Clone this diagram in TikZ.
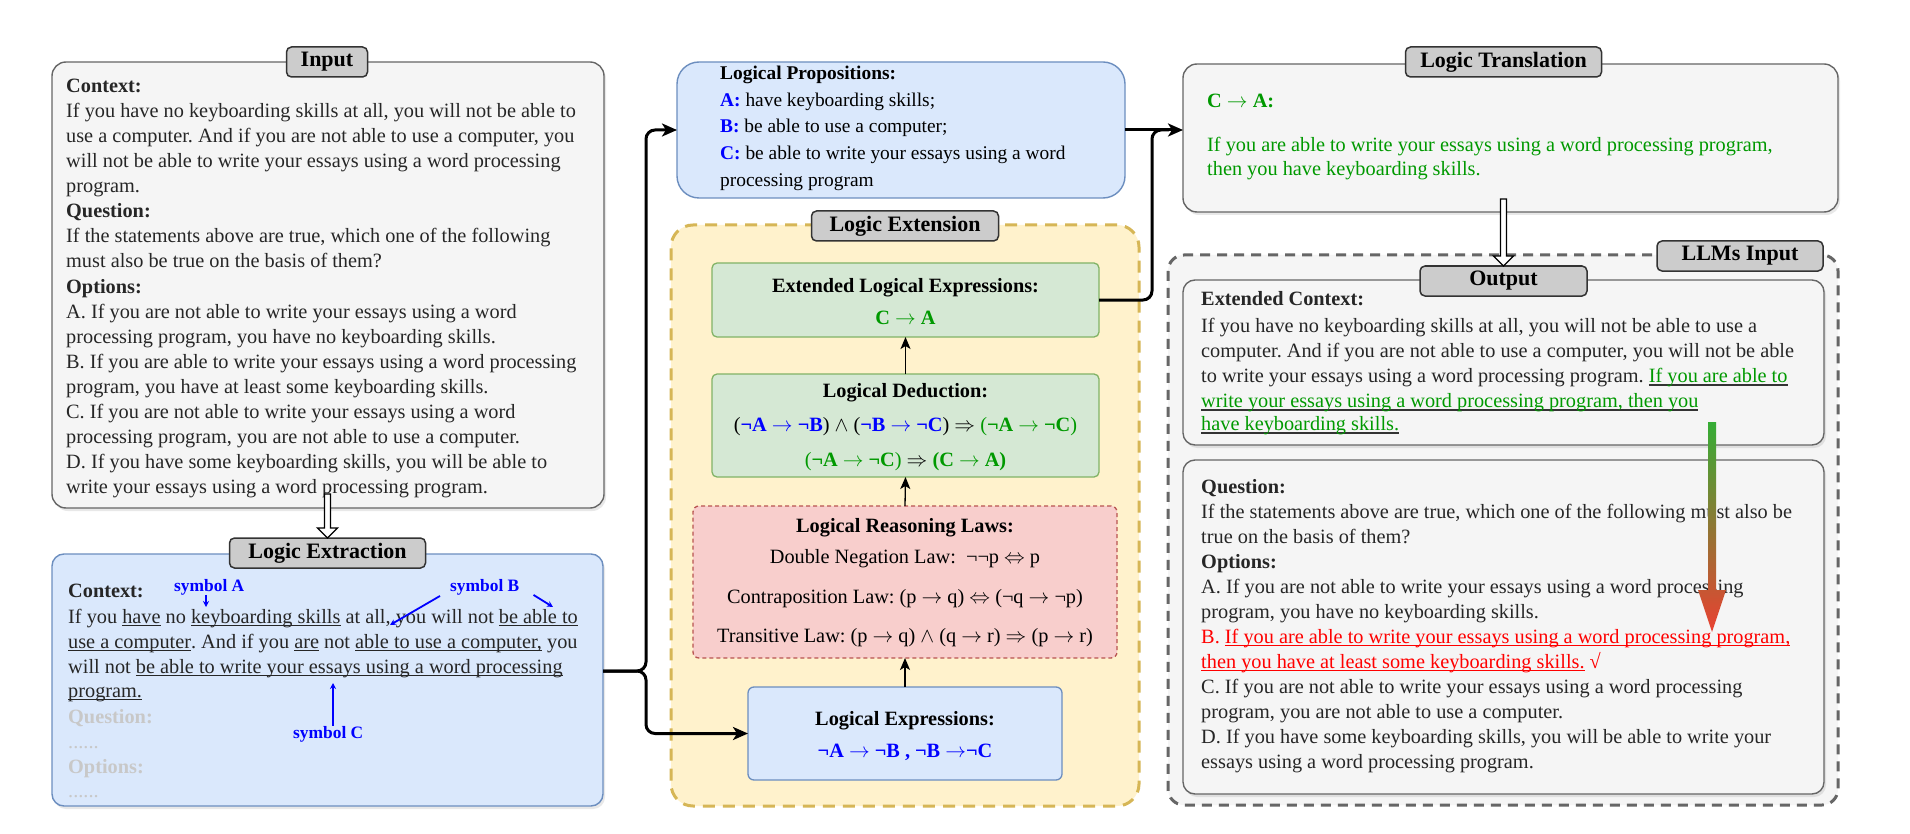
\documentclass[tikz,border=0pt]{standalone}
\usepackage{fontspec}
\setmainfont{Liberation Serif}
\usetikzlibrary{arrows.meta,shadows,calc}
\frenchspacing
\definecolor{gbox}{HTML}{F5F5F5}
\definecolor{gline}{HTML}{666666}
\definecolor{lblfill}{HTML}{CCCCCC}
\definecolor{bfill}{HTML}{DAE8FC}
\definecolor{bline}{HTML}{6C8EBF}
\definecolor{yfill}{HTML}{FFF2CC}
\definecolor{yline}{HTML}{D6B656}
\definecolor{gfill}{HTML}{D5E8D4}
\definecolor{glinec}{HTML}{82B366}
\definecolor{rfill}{HTML}{F8CECC}
\definecolor{rline}{HTML}{B85450}
\definecolor{tblue}{HTML}{0000FF}
\definecolor{tgreen}{HTML}{009900}
\definecolor{tred}{HTML}{FF0000}
\definecolor{txt}{HTML}{262626}
\definecolor{faded}{HTML}{C8C8C8}
\definecolor{ulgray}{HTML}{333333}
\definecolor{llmfill}{HTML}{F5F5F5}
\definecolor{arrg}{HTML}{35AD35}
\definecolor{arrr}{HTML}{EA4132}
\newcommand\fs{\fontsize{20.3}{25}\selectfont}
\newcommand\fp{\fontsize{19.4}{26}\selectfont}
\newcommand\flbl{\fontsize{22}{26}\selectfont\bfseries}
\newcommand\fsym{\fontsize{17.4}{20}\selectfont\bfseries}
\newcommand\ra{\ensuremath{\rightarrow}}
\newsavebox\myulbox
\newcommand\myul[1]{\sbox\myulbox{#1}\rlap{\rule[-3pt]{\wd\myulbox}{0.9pt}}\usebox\myulbox}
\newcommand\gul[1]{\sbox\myulbox{#1}\rlap{\textcolor{ulgray}{\rule[-4pt]{\wd\myulbox}{2pt}}}\usebox\myulbox}
\newcommand\harrow[2]{\draw[hollow] ($(#1)+(-3,-#2)$) -- ($(#1)+(3,-#2)$) -- ($(#1)+(3,-10)$) -- ($(#1)+(10,-10)$) -- (#1) -- ($(#1)+(-10,-10)$) -- ($(#1)+(-3,-10)$) -- cycle;}
\begin{document}
\begin{tikzpicture}[x=1pt,y=-1pt,
 mainbox/.style={draw=gline,fill=gbox,line width=1.4pt,rounded corners=14pt,inner sep=0pt,outer sep=0pt,anchor=north west},
 shad/.style={drop shadow={shadow xshift=2pt,shadow yshift=-3pt,opacity=0.18}},
 lbl/.style={draw=ulgray,fill=lblfill,line width=1.5pt,rounded corners=5pt,inner sep=0pt,outer sep=0pt,minimum height=30pt,font=\flbl,text=black},
 tl/.style={anchor=base west,inner sep=0pt,font=\fs,text=txt},
 tc/.style={anchor=base,inner sep=0pt,font=\fs,text=black},
 conn/.style={line width=3pt,rounded corners=9pt,-{Stealth[length=15pt,width=13pt,inset=4pt]}},
 vthin/.style={line width=1.3pt,-{Stealth[length=12pt,width=10pt,inset=3pt]}},
 symarr/.style={draw=tblue,line width=1.8pt,-{Stealth[length=6pt,width=6pt]}},
 hollow/.style={draw=black,fill=white,line width=1.3pt,line join=miter},
]
\useasboundingbox (0,0) rectangle (1910,834);
\fill[white] (0,0) rectangle (1910,834);

% ---------- boxes ----------
\node[mainbox,shad,minimum width=552pt,minimum height=446pt] (inbox) at (52,62) {};
\node[mainbox,shad,draw=bline,fill=bfill,rounded corners=12pt,minimum width=551pt,minimum height=252pt] (exbox) at (52,554) {};
\node[mainbox,draw=bline,fill=bfill,rounded corners=22pt,minimum width=448pt,minimum height=136pt] (propbox) at (677,62) {};
\node[mainbox,draw=yline,fill=yfill,line width=3pt,dash pattern=on 12pt off 8pt,rounded corners=22pt,minimum width=468pt,minimum height=581pt] (extbox) at (671,225) {};
\node[mainbox,draw=glinec,fill=gfill,line width=1.3pt,rounded corners=5pt,minimum width=387pt,minimum height=74pt] (elbox) at (712,263) {};
\node[mainbox,draw=glinec,fill=gfill,line width=1.3pt,rounded corners=5pt,minimum width=387pt,minimum height=103pt] (dedbox) at (712,374) {};
\node[mainbox,draw=rline,fill=rfill,line width=1.3pt,dash pattern=on 4pt off 3pt,rounded corners=6pt,minimum width=424pt,minimum height=152pt] (lawbox) at (693,506) {};
\node[mainbox,draw=bline,fill=bfill,line width=1.3pt,rounded corners=6pt,minimum width=314pt,minimum height=93pt] (lexbox) at (748,687) {};
\node[mainbox,shad,minimum width=655pt,minimum height=148pt] (trbox) at (1183,64) {};
\node[mainbox,draw=gline,fill=llmfill,line width=3pt,dash pattern=on 10pt off 7pt,rounded corners=16pt,minimum width=670pt,minimum height=550pt] (llmbox) at (1168,255) {};
\node[mainbox,shad,rounded corners=12pt,minimum width=641pt,minimum height=165pt] (outbox) at (1183,280) {};
\node[mainbox,shad,rounded corners=12pt,minimum width=641pt,minimum height=334pt] (qbox) at (1183,460) {};

% ---------- labels ----------
\node[lbl,minimum width=81pt] (lin) at (327,62) {Input};
\node[lbl,minimum width=196pt] (lext) at (327.5,553) {Logic Extraction};
\node[lbl,minimum width=187pt] (lexn) at (905,226) {Logic Extension};
\node[lbl,minimum width=196pt] (ltr) at (1503.5,62) {Logic Translation};
\node[lbl,minimum width=166pt] (llm) at (1740,256) {LLMs Input};
\node[lbl,minimum width=167pt] (lout) at (1503.5,281) {Output};

% ---------- Input text ----------
\node[tl,font=\fs\bfseries] (i0) at (66,93) {Context:};
\node[tl] (i1) at (66,118) {If you have no keyboarding skills at all, you will not be able to};
\node[tl] (i2) at (66,143) {use a computer. And if you are not able to use a computer, you};
\node[tl] (i3) at (66,168) {will not be able to write your essays using a word processing};
\node[tl] (i4) at (66,193) {program.};
\node[tl,font=\fs\bfseries] (i5) at (66,218) {Question:};
\node[tl] (i6) at (66,243) {If the statements above are true, which one of the following};
\node[tl] (i7) at (66,268) {must also be true on the basis of them?};
\node[tl,font=\fs\bfseries] (i8) at (66,293) {Options:};
\node[tl] (i9) at (66,318) {A. If you are not able to write your essays using a word};
\node[tl] (i10) at (66,343) {processing program, you have no keyboarding skills.};
\node[tl] (i11) at (66,368) {B. If you are able to write your essays using a word processing};
\node[tl] (i12) at (66,393) {program, you have at least some keyboarding skills.};
\node[tl] (i13) at (66,418) {C. If you are not able to write your essays using a word};
\node[tl] (i14) at (66,443) {processing program, you are not able to use a computer.};
\node[tl] (i15) at (66,468) {D. If you have some keyboarding skills, you will be able to};
\node[tl] (i16) at (66,493) {write your essays using a word processing program.};

% ---------- Extraction text ----------
\node[tl,font=\fs\bfseries] (x0) at (68,597) {Context:};
\node[tl] (x1) at (68,623) {If you \myul{have} no \myul{keyboarding skills} at all, you will not \myul{be able to}};
\node[tl] (x2) at (68,648) {\myul{use a computer}. And if you \myul{are} not \myul{able to use a computer,} you};
\node[tl] (x3) at (68,673) {will not \myul{be able to write your essays using a word processing}};
\node[tl] (x4) at (68,697) {\myul{program.}};
\node[tl,font=\fs\bfseries,text=faded] (x5) at (68,723) {Question:};
\node[tl,text=faded] (x6) at (68,748) {......};
\node[tl,font=\fs\bfseries,text=faded] (x7) at (68,773) {Options:};
\node[tl,text=faded] (x8) at (68,797) {......};
\node[tl,font=\fsym,text=tblue] (sa) at (174,591) {symbol A};
\node[tl,font=\fsym,text=tblue] (sb) at (450,591) {symbol B};
\node[tl,font=\fsym,text=tblue] (sc) at (293,738) {symbol C};
\coordinate (ta) at (206,607);
\coordinate (tb1) at (390,625);
\coordinate (tb2) at (553,607);
\coordinate (tcc) at (333,683);
\draw[symarr] (ta |- sa.south) -- (ta);
\draw[symarr] ($(sb.south west)+(-10,1)$) -- (tb1);
\draw[symarr] ($(sb.south east)+(14,0)$) -- (tb2);
\draw[symarr] (tcc |- sc.north) -- (tcc);

% ---------- Propositions ----------
\node[tl,font=\fp\bfseries,text=black] (p0) at (720,80) {Logical Propositions:};
\node[tl,font=\fp,text=black] (p1) at (720,107) {\textcolor{tblue}{\textbf{A:}} have keyboarding skills;};
\node[tl,font=\fp,text=black] (p2) at (720,133) {\textcolor{tblue}{\textbf{B:}} be able to use a computer;};
\node[tl,font=\fp,text=black] (p3) at (720,160) {\textcolor{tblue}{\textbf{C:}} be able to write your essays using a word};
\node[tl,font=\fp,text=black] (p4) at (720,187) {processing program};

% ---------- Logic Extension ----------
\node[tc,font=\fs\bfseries] (e0) at (905.5,292) {Extended Logical Expressions:};
\node[tc,font=\fs\bfseries,text=tgreen] (e1) at (905.5,324) {C \ra{} A};
\node[tc,font=\fs\bfseries] (d0) at (905.5,397) {Logical Deduction:};
\node[tc] (d1) at (905.5,431) {(\textcolor{tblue}{\textbf{¬A} \ra{} \textbf{¬B}}) $\wedge$ (\textcolor{tblue}{\textbf{¬B} \ra{} \textbf{¬C}}) $\Rightarrow$ \textcolor{tgreen}{(\textbf{¬A} \ra{} \textbf{¬C})}};
\node[tc] (d2) at (905.5,466) {\textcolor{tgreen}{(\textbf{¬A} \ra{} \textbf{¬C})} $\Rightarrow$ \textcolor{tgreen}{\textbf{(C \ra{} A)}}};
\node[tc,font=\fs\bfseries] (w0) at (905,532) {Logical Reasoning Laws:};
\node[tc] (w1) at (905,563) {Double Negation Law:\ \ ¬¬p $\Leftrightarrow$ p};
\node[tc] (w2) at (905,603) {Contraposition Law: (p \ra{} q) $\Leftrightarrow$ (¬q \ra{} ¬p)};
\node[tc] (w3) at (905,642) {Transitive Law: (p \ra{} q) $\wedge$ (q \ra{} r) $\Rightarrow$ (p \ra{} r)};
\node[tc,font=\fs\bfseries] (l0) at (905,725) {Logical Expressions:};
\node[tc,font=\fs\bfseries,text=tblue] (l1) at (905,757) {¬A \ra{} ¬B , ¬B \ra¬C};

% ---------- Translation ----------
\node[tl,font=\fs\bfseries,text=tgreen] (t0) at (1207,108) {C \ra{} A:};
\node[tl,text=tgreen] (t1) at (1207,152) {If you are able to write your essays using a word processing program,};
\node[tl,text=tgreen] (t2) at (1207,176) {then you have keyboarding skills.};

% ---------- Output ----------
\node[tl,font=\fs\bfseries] (o0) at (1201,305) {Extended Context:};
\node[tl] (o1) at (1201,332) {If you have no keyboarding skills at all, you will not be able to use a};
\node[tl] (o2) at (1201,357) {computer. And if you are not able to use a computer, you will not be able};
\node[tl] (o3) at (1201,382) {to write your essays using a word processing program. \textcolor{tgreen}{\gul{If you are able to}}};
\node[tl] (o4) at (1201,407) {\textcolor{tgreen}{\gul{write your essays using a word processing program, then you}}};
\node[tl] (o5) at (1201,430) {\textcolor{tgreen}{\gul{have keyboarding skills.}}};

\node[tl,font=\fs\bfseries] (q0) at (1201,493) {Question:};
\node[tl] (q1) at (1201,518) {If the statements above are true, which one of the following must also be};
\node[tl] (q2) at (1201,543) {true on the basis of them?};
\node[tl,font=\fs\bfseries] (q3) at (1201,568) {Options:};
\node[tl] (q4) at (1201,593) {A. If you are not able to write your essays using a word processing};
\node[tl] (q5) at (1201,618) {program, you have no keyboarding skills.};
\node[tl,text=tred] (q6) at (1201,643) {B. \myul{If you are able to write your essays using a word processing program,}};
\node[tl,text=tred] (q7) at (1201,668) {\myul{then you have at least some keyboarding skills.} √};
\node[tl] (q8) at (1201,693) {C. If you are not able to write your essays using a word processing};
\node[tl] (q9) at (1201,718) {program, you are not able to use a computer.};
\node[tl] (q10) at (1201,743) {D. If you have some keyboarding skills, you will be able to write your};
\node[tl] (q11) at (1201,768) {essays using a word processing program.};

% ---------- connectors ----------
\coordinate (xo) at (exbox.east |- 0,671);
\draw[conn] (xo) -| ($(propbox.west)+(-31,0)$) -- (propbox.west);
\draw[conn] (xo) -| ($(lexbox.west)+(-102,0)$) -- (lexbox.west);
\draw[conn] (propbox.east) -- (trbox.west |- propbox.east);
\draw[line width=3pt,rounded corners=9pt] (elbox.east) -| ($(trbox.west |- propbox.east)+(-31,0)$) -- ($(trbox.west |- propbox.east)+(-14,0)$);
\draw[vthin] (lexbox.north) -- (lawbox.south);
\draw[vthin] (lawbox.north) -- (dedbox.south);
\draw[vthin] (dedbox.north) -- (elbox.south);
\harrow{lext.north}{44}
\harrow{lout.north}{67}
\shade[top color=arrg,bottom color=arrr] (1708,422) -- (1716,422) -- (1716,590) -- (1726,590) -- (1712,632) -- (1698,590) -- (1708,590) -- cycle;
\end{tikzpicture}
\end{document}
